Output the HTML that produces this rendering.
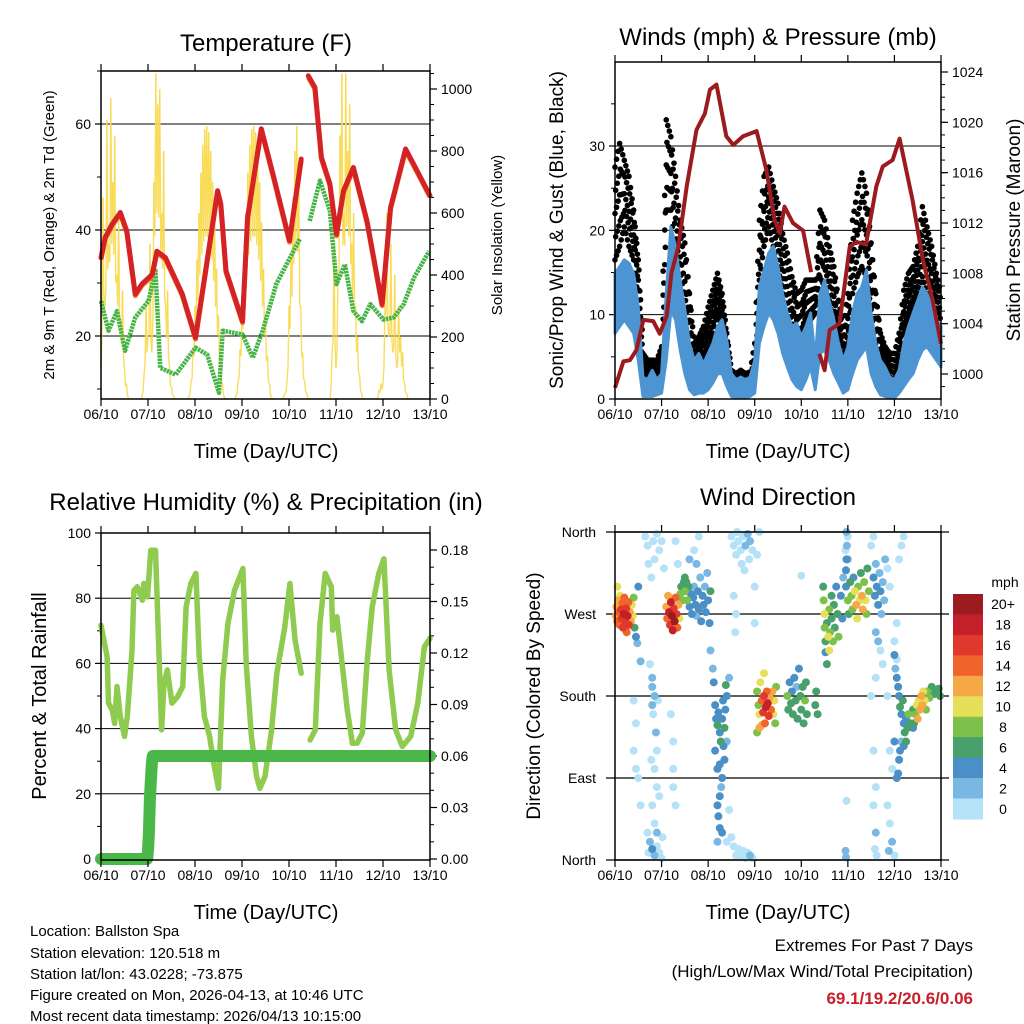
<!DOCTYPE html>
<html><head><meta charset="utf-8"><style>
body{margin:0;background:#fff;}
svg{display:block;font-family:"Liberation Sans",sans-serif;}
</style></head><body>
<svg id="root" width="1024" height="1024" viewBox="0 0 1024 1024">
<rect width="1024" height="1024" fill="#fff"/>
<text x="266" y="51" font-size="24" text-anchor="middle">Temperature (F)</text>
<text x="778" y="45" font-size="24" text-anchor="middle">Winds (mph) &amp; Pressure (mb)</text>
<text x="266" y="510" font-size="24" text-anchor="middle">Relative Humidity (%) &amp; Precipitation (in)</text>
<text x="778" y="505" font-size="24" text-anchor="middle">Wind Direction</text>
<text x="266" y="458" font-size="20" text-anchor="middle">Time (Day/UTC)</text>
<text x="778" y="458" font-size="20" text-anchor="middle">Time (Day/UTC)</text>
<text x="266" y="919" font-size="20" text-anchor="middle">Time (Day/UTC)</text>
<text x="778" y="919" font-size="20" text-anchor="middle">Time (Day/UTC)</text>
<text transform="translate(54,235) rotate(-90)" font-size="15" text-anchor="middle">2m &amp; 9m T (Red, Orange) &amp; 2m Td (Green)</text>
<text transform="translate(502,235) rotate(-90)" font-size="15" text-anchor="middle">Solar Insolation (Yellow)</text>
<text transform="translate(563,230) rotate(-90)" font-size="19" text-anchor="middle">Sonic/Prop Wind &amp; Gust (Blue, Black)</text>
<text transform="translate(1020,230) rotate(-90)" font-size="19" text-anchor="middle">Station Pressure (Maroon)</text>
<text transform="translate(46,696) rotate(-90)" font-size="20" text-anchor="middle">Percent &amp; Total Rainfall</text>
<text transform="translate(540,696) rotate(-90)" font-size="19" text-anchor="middle">Direction (Colored By Speed)</text>
<g font-size="15">
<text x="30" y="936">Location: Ballston Spa</text>
<text x="30" y="958">Station elevation: 120.518 m</text>
<text x="30" y="979">Station lat/lon: 43.0228; -73.875</text>
<text x="30" y="1000">Figure created on Mon, 2026-04-13, at 10:46 UTC</text>
<text x="30" y="1021">Most recent data timestamp: 2026/04/13 10:15:00</text>
</g>
<g font-size="17" text-anchor="end">
<text x="973" y="951">Extremes For Past 7 Days</text>
<text x="973" y="977">(High/Low/Max Wind/Total Precipitation)</text>
<text x="973" y="1004" font-weight="bold" fill="#c8202a">69.1/19.2/20.6/0.06</text>
</g>
</svg>
<script>
// ---------- data ----------
const dayLabels=["06/10","07/10","08/10","09/10","10/10","11/10","12/10","13/10"];
const tempT=[0,.09,.23,.41,.55,.73,.87,1.09,1.19,1.37,1.73,2.01,2.3,2.48,2.55,2.66,3.01,3.12,3.41,3.66,4.01,4.26,null,4.41,4.55,4.69,4.87,5.01,5.16,5.37,5.66,5.98,6.16,6.48,6.69,7.0];
const tempV=[34.8,38.6,41,43.3,39.8,27.9,29.8,31.6,36,34.8,27.9,19.7,36.7,47.4,44.9,32.3,22.8,42.4,59.1,50.5,38,53.4,null,69.1,66.9,53.7,48.7,39.2,47.4,51.8,41.7,26,44.2,55.3,51.8,46.5];
const dewT=[0,.16,.34,.51,.73,1.01,1.16,1.26,1.59,2.01,2.26,2.51,2.59,3.01,3.23,3.44,3.73,4.23,null,4.44,4.66,4.87,5.01,5.19,5.37,5.55,5.73,6.01,6.23,6.44,6.66,6.98];
const dewV=[26.6,21,24.7,17.2,23.5,26.6,32.3,14,12.7,17.8,16.5,9.3,21,20.3,15.9,21,29.8,38.3,null,41.7,49.3,43.6,29.8,33.5,24.7,22.8,26,23.1,23.5,26,31,36];
// hourly solar insolation, one row per day (hours 0..23)
const solar=[
[100,650,300,900,500,970,700,850,400,600,250,350,100,50,0,0,0,0,0,0,0,10,80,300],
[200,500,150,700,1050,950,1000,600,800,300,350,100,40,10,0,0,0,0,0,0,0,10,60,160],
[300,450,600,730,820,870,880,860,800,700,570,420,270,140,50,5,0,0,0,0,0,10,60,160],
[300,450,600,730,820,870,880,860,800,700,570,420,270,140,50,5,0,0,0,0,0,5,20,60],
[300,450,650,800,880,700,300,150,60,20,0,0,0,0,0,0,0,0,0,0,0,0,150,500],
[100,400,850,1050,600,1050,800,950,500,600,300,200,80,20,0,0,0,0,0,0,0,0,30,50],
[50,300,600,200,500,150,400,100,300,200,150,50,20,0,0,0,0,0,0,0,0,0,0,0]];
const pressT=[0,.18,.32,.46,.61,.82,.96,1.11,1.21,1.36,1.54,1.75,1.93,2.04,2.18,2.39,2.54,2.75,3.04,3.25,3.43,3.54,3.64,3.82,4.04,4.21,null,4.39,4.5,4.61,4.82,5.04,5.18,5.39,5.61,5.75,5.96,6.11,6.39,6.61,6.82,7.0];
const pressV=[998.9,1001,1001.1,1001.9,1004.3,1004.2,1003.2,1004.6,1008,1010.1,1014.9,1019.4,1020.7,1022.6,1023,1018.9,1018.2,1018.9,1019.3,1016.2,1012.2,1011.2,1013.3,1012,1011.4,1008.1,null,1001.6,1000.3,1003.5,1004,1010.1,1010.5,1010.3,1014.9,1016.5,1017,1018.7,1013.8,1009.1,1005.9,1002.4];
// wind (every 0.1 day)
const windHi=[14.9,15.7,16.5,16.1,14.9,10.9,2.6,2.3,3.4,2.3,3.0,12.5,20.4,18.1,14.1,10.6,6.6,4.6,5.4,4.2,5.4,6.6,8.6,9.4,7.0,3.0,2.3,2.6,2.3,2.6,4.6,13.3,15.3,17.3,18.1,15.7,12.5,10.2,8.6,9.0,7.4,8.6,10.2,4.6,12.5,14.1,11.7,9.4,6.6,4.6,6.2,10.2,12.5,13.3,15.3,10.2,6.6,4.6,3.8,2.6,2.3,3.4,6.6,8.6,10.2,11.7,13.3,12.5,10.9,9.4,8.6];
const windLo=[7.8,8.6,9.4,8.6,7.8,4.6,0.3,0.3,0.3,0.5,0.7,4.6,10.5,9.4,5.8,3.0,1.1,0.5,0.7,0.7,1.1,1.9,3.0,3.0,1.5,0.3,0.2,0.2,0.2,0.3,0.7,6.6,8.6,10.2,9.4,7.8,5.4,3.8,2.3,1.5,1.1,2.3,3.8,1.1,5.4,5.8,4.6,3.0,1.9,0.7,1.1,3.0,4.6,5.4,6.2,3.0,1.5,0.5,0.3,0.1,0.1,0.7,1.5,2.3,3.0,4.6,5.8,6.2,5.4,4.6,3.8];
const gustHi=[27.5,30.3,28.3,26.4,22.4,16.5,5.4,4.6,4.6,4.6,6.2,33.1,31.1,26.4,21.2,18.5,12.5,6.6,7.4,8.6,10.9,12.9,14.9,12.5,7.8,3.4,3.0,3.4,3.0,3.2,6.6,21.2,26.4,27.5,25.2,23.2,19.6,17.3,14.5,12.5,12.9,14.1,14.1,14.1,22.4,21.2,18.1,15.7,11.7,8.6,12.5,21.2,24.4,26.8,24.4,18.5,12.5,7.8,6.2,5.4,5.4,7.8,12.9,14.9,15.7,18.1,22.8,20.4,18.1,14.9,12.5];
const gustLo=[16.5,18.1,20.4,18.1,16.5,11.7,2.6,2.3,2.3,2.3,3.0,22.4,22.4,16.5,12.5,9.4,6.2,3.0,3.8,4.6,6.2,7.8,10.2,8.6,3.8,1.1,1.1,1.3,1.1,1.1,2.3,14.1,18.1,20.4,18.1,15.7,12.5,9.4,7.0,6.2,7.0,8.6,9.4,10.2,14.5,13.3,11.7,8.6,6.2,4.6,6.6,12.5,14.5,15.7,14.5,10.6,6.6,3.8,3.0,2.6,2.3,3.8,7.8,9.4,10.9,12.5,14.5,12.5,11.7,9.4,7.8];
// humidity & precipitation
const rhT=[0,.13,.16,.24,.29,.34,.41,.5,.56,.66,.7,.77,.88,.91,.99,1.06,1.16,1.24,1.29,1.34,1.41,1.51,1.63,1.74,1.81,1.91,2.02,2.09,2.2,2.31,2.41,2.5,2.59,2.7,2.84,3.02,3.09,3.2,3.31,3.38,3.49,3.63,3.74,3.91,4.02,4.13,4.26,null,4.45,4.56,4.66,4.77,4.9,4.93,5.02,5.13,5.24,5.35,5.45,5.56,5.66,5.77,5.91,6.02,6.13,6.27,6.41,6.59,6.74,6.88,7.0];
const rhV=[71.7,62,47.8,45.7,41.6,52.9,43.7,37.6,43.7,64,82.4,83.5,79.4,84.5,80.4,94.7,94.7,60,39.6,53.9,58,47.8,49.8,52.9,77.3,84.5,87.6,62,43.7,37.6,28.4,21.7,54.9,72.2,82.4,89.1,60,37.6,25.3,21.7,25.3,39.6,57,71.2,84.5,67.1,57,null,36.5,39.6,72.2,87.6,83.5,70.2,74.3,60,45.7,35.5,35.5,38.6,60,77.3,87.6,92.1,58,39.6,34.5,37.6,47.8,65.1,67.7];
const rainT=[0,0.98,1.0,1.02,1.03,1.04,1.06,1.08,1.1,4.29,null,4.32,7.0];
const rainV=[0,0,0.005,0.015,0.025,0.035,0.045,0.055,0.06,0.06,null,0.06,0.06];
// wind direction points [day, degrees, speed mph]
const dirPts=[
[0.02,268,13],[0.03,278,12],[0.05,262,14],[0.07,285,12],[0.08,272,15],[0.1,258,14],[0.11,290,11],[0.13,275,16],[0.14,265,17],[0.16,282,14],[0.17,255,16],[0.19,270,18],[0.2,288,15],[0.22,262,17],[0.24,276,16],[0.25,250,15],[0.27,268,18],[0.29,283,14],[0.3,258,17],[0.32,272,13],[0.34,262,12],[0.36,280,10],[0.38,268,11],[0.4,288,8],[0.42,255,6],[0.45,245,4],[0.48,238,3],[0.5,300,4],[0.55,218,3],[0.05,300,10],
[1.1,278,13],[1.12,265,14],[1.14,290,12],[1.16,272,18],[1.18,258,16],[1.2,283,19],[1.22,268,20],[1.24,252,18],[1.26,276,17],[1.28,262,20],[1.3,288,15],[1.32,270,16],[1.34,255,14],[1.36,280,12],[1.38,265,10],[1.4,292,8],[1.42,300,7],[1.45,285,8],[1.48,305,7],[1.5,310,6],
[1.5,295,8],[1.53,305,7],[1.55,285,8],[1.58,300,6],[1.6,278,5],[1.63,292,4],[1.65,270,4],[1.68,288,4],[1.7,300,3],[1.73,280,4],[1.75,268,3],[1.78,295,4],[1.8,275,4],[1.83,310,3],[1.85,262,4],[1.88,290,4],[1.9,280,5],[1.93,300,3],[1.95,272,4],[1.98,315,2],[2.0,285,5],[2.03,260,4],[2.05,295,6],[1.6,330,2],[1.7,340,1],[1.8,355,1],[1.75,325,2],
[0.65,355,1],[0.7,345,1],[0.72,325,1],[0.78,310,1],[0.82,350,1],[0.85,330,1],[0.9,358,1],[0.95,340,1],[0.75,215,1],[0.8,200,2],[0.8,190,3],[0.8,170,2],[0.82,160,1],[0.85,180,2],[0.88,140,2],[0.9,120,1],[0.92,175,1],[0.78,110,1],[0.85,100,1],[0.9,80,1],[0.95,70,1],[0.8,60,1],[0.85,40,1],[0.75,20,2],[0.8,12,4],[0.85,5,2],[0.9,15,1],[0.95,8,1],[1.0,2,1],[1.02,25,1],[0.7,30,1],[0.72,8,1],[0.9,30,2],[1.05,320,1],[1.0,350,1],
[2.05,230,2],[2.1,210,3],[2.12,195,4],[2.15,170,4],[2.17,155,5],[2.2,148,6],[2.22,162,4],[2.25,140,5],[2.27,130,7],[2.3,155,4],[2.32,175,4],[2.33,125,4],[2.35,110,4],[2.3,90,4],[2.28,80,3],[2.25,70,4],[2.2,60,4],[2.22,48,4],[2.25,35,4],[2.3,30,4],[2.2,20,2],[2.35,145,7],[2.37,165,4],[2.4,180,4],[2.4,130,3],[2.45,200,2],[2.15,120,4],[2.2,100,4],[2.25,105,5],[2.38,192,6],
[2.5,355,1],[2.55,345,1],[2.6,335,1],[2.62,360,1],[2.65,350,1],[2.7,340,1],[2.72,325,1],[2.75,355,1],[2.78,318,1],[2.8,345,2],[2.85,358,2],[2.88,330,1],[2.9,350,2],[2.95,340,1],[2.5,25,1],[2.55,15,1],[2.6,5,1],[2.65,12,1],[2.7,3,1],[2.75,10,1],[2.8,2,1],[2.85,8,1],[2.9,5,2],[2.95,2,1],[2.6,270,1],[2.58,250,1],[2.55,290,1],[2.4,20,1],[2.45,55,1],
[3.05,185,9],[3.08,170,8],[3.1,160,10],[3.12,195,10],[3.15,175,14],[3.18,162,16],[3.2,180,17],[3.22,150,15],[3.24,168,19],[3.26,185,14],[3.28,172,18],[3.3,158,16],[3.32,178,13],[3.35,165,14],[3.38,185,12],[3.4,160,11],[3.42,175,10],[3.44,150,9],[3.46,190,8],[3.1,145,12],[3.15,148,12],[3.05,140,8],[3.2,205,10],
[3.7,180,8],[3.72,165,6],[3.75,195,4],[3.78,172,7],[3.8,185,5],[3.82,160,6],[3.85,200,4],[3.88,175,7],[3.9,190,3],[3.92,155,7],[3.95,210,4],[3.98,180,6],[4.0,165,7],[4.03,190,7],[4.05,150,6],[4.08,175,8],[4.1,195,6],[4.12,160,7],[4.3,170,6],[4.32,185,7],[4.35,160,6],
[4.47,300,6],[4.48,285,8],[4.5,270,10],[4.5,255,9],[4.52,240,6],[4.52,228,5],[4.55,215,6],[4.55,260,7],[4.58,245,10],[4.6,230,10],[4.6,275,8],[4.62,250,9],[4.65,290,6],[4.65,265,7],[4.68,240,8],[4.7,280,6],[4.72,255,7],[4.75,300,5],[4.78,270,6],[4.8,245,8],[4.85,290,4],[4.88,265,4],[4.9,310,3],
[4.96,300,5],[5.0,285,8],[5.02,270,7],[5.05,305,6],[5.08,290,8],[5.1,275,9],[5.12,310,5],[5.15,295,10],[5.18,280,12],[5.2,265,11],[5.22,300,8],[5.25,285,10],[5.28,315,6],[5.3,290,13],[5.32,275,12],[5.35,305,8],[5.38,285,10],[5.4,270,9],[5.42,320,6],[5.45,295,8],[5.0,330,3],[4.98,345,2],[5.0,355,1],
[5.55,310,4],[5.58,290,4],[5.6,325,3],[5.62,300,5],[5.65,280,4],[5.68,315,3],[5.7,295,4],[5.72,270,3],[5.75,305,2],[5.78,285,3],[5.8,330,2],[5.85,320,1],[5.9,300,1],[5.6,250,2],[5.65,240,3],[5.7,230,1],[5.75,215,1],[5.6,200,1],[5.5,180,1],[5.55,120,1],[5.6,80,1],[5.55,60,1],[5.6,30,2],[5.58,12,1],[5.62,5,1],[5.5,345,1],[5.55,355,1],
[4.95,340,1],[4.97,330,4],[4.96,318,4],[4.97,65,1],[4.95,10,2],[4.96,3,3],[4.97,360,2],
[6.0,225,4],[6.02,210,3],[6.05,200,4],[6.08,190,5],[6.1,180,4],[6.12,168,6],[6.15,160,4],[6.18,175,7],[6.2,150,5],[6.22,140,6],[6.25,155,4],[6.28,145,7],[6.3,160,8],[6.12,120,4],[6.1,110,4],[6.08,95,4],[6.05,90,4],[6.0,130,4],[6.15,130,3],[6.2,125,5],[6.25,130,6],[6.35,150,6],[6.4,165,7],
[5.85,180,1],[5.9,120,1],[5.95,100,1],[5.85,60,1],[5.9,40,1],[5.95,20,2],[6.0,5,1],[5.88,10,2],[6.05,220,1],[6.0,240,1],[6.05,260,1],[6.1,330,1],[6.15,345,1],[6.2,355,1],
[6.45,160,8],[6.48,170,10],[6.5,155,12],[6.52,175,10],[6.55,165,12],[6.58,180,12],[6.6,170,13],[6.62,185,11],[6.65,175,10],[6.68,165,9],[6.7,185,8],[6.75,178,8],[6.8,190,7],[6.85,182,6],[6.9,185,7],[6.95,188,7],[6.98,180,6],[6.42,150,6],[6.4,145,5],
[0.4,120,1],[0.45,100,1],[0.5,90,1],[0.55,60,1],[0.45,150,1],[0.4,175,1],[1.2,160,1],[1.25,130,1],[1.25,80,1],[1.3,60,1],[1.25,100,1],[1.3,350,1],[1.35,325,1],[3.05,335,1],[3.0,260,1],[3.1,360,1],[3.0,300,1],[4.0,312,1]];
const speedLabels=["0","2","4","6","8","10","12","14","16","18","20+"];
const speedColors=["#b5e2f6","#79b8e3","#4a90c6","#48a06a","#7dc14a","#e6df5a","#f7a846","#f0642c","#e0382c","#c4202a","#9b1b1e"];

// ---------- drawing ----------
const NS="http://www.w3.org/2000/svg";
const root=document.getElementById('root');
function mk(tag,attrs,parent){const e=document.createElementNS(NS,tag);for(const k in attrs)e.setAttribute(k,attrs[k]);(parent||root).appendChild(e);return e;}
function lin(d0,d1,r0,r1){return v=>r0+(v-d0)*(r1-r0)/(d1-d0);}
function pathFrom(ts,vs,sx,sy){let d="",pen=false;for(let i=0;i<ts.length;i++){if(ts[i]===null){pen=false;continue;}d+=(pen?"L":"M")+sx(ts[i]).toFixed(1)+","+sy(vs[i]).toFixed(1);pen=true;}return d;}

function frame(x0,y0,x1,y1,name){
  const g=mk('g',{});
  
  
  mk('rect',{x:x0,y:y0,width:x1-x0,height:y1-y0,fill:'none',stroke:'#000','stroke-width':1.5},g);
  const sx=lin(0,7,x0,x1);
  for(let i=0;i<dayLabels.length;i++){
    const x=sx(i);
    mk('line',{x1:x,y1:y1,x2:x,y2:y1+7,stroke:'#000','stroke-width':1.2},g);
    mk('line',{x1:x,y1:y0,x2:x,y2:y0-7,stroke:'#000','stroke-width':1.2},g);
    const t=mk('text',{x:x,y:y1+20,'font-size':14,'text-anchor':'middle'},g);
    
    
    t.textContent=dayLabels[i];
  }
  return sx;
}
function leftAxis(x0,x1,sy,ticks,labels,minor,name,gridLo){
  const g=mk('g',{});
  
  
  ticks.forEach((v,i)=>{
    const y=sy(v);
    if(v!==gridLo) mk('line',{x1:x0,y1:y,x2:x1,y2:y,stroke:'#000','stroke-width':1},g);
    mk('line',{x1:x0-6,y1:y,x2:x0,y2:y,stroke:'#000','stroke-width':1.2},g);
    const t=mk('text',{x:x0-10,y:y+5,'font-size':14,'text-anchor':'end'},g);
    t.textContent=labels[i];
  });
  minor.forEach(v=>{const y=sy(v);mk('line',{x1:x0-4,y1:y,x2:x0,y2:y,stroke:'#000','stroke-width':1},g);});
}
function rightAxis(x1,sy,ticks,labels,minor,name){
  const g=mk('g',{});
  
  
  ticks.forEach((v,i)=>{
    const y=sy(v);
    mk('line',{x1:x1,y1:y,x2:x1+7,y2:y,stroke:'#000','stroke-width':1.2},g);
    const t=mk('text',{x:x1+11,y:y+5,'font-size':14,'text-anchor':'start'},g);
    t.textContent=labels[i];
  });
  minor.forEach(v=>{const y=sy(v);mk('line',{x1:x1,y1:y,x2:x1+4,y2:y,stroke:'#000','stroke-width':1},g);});
}
function range(a,b,s){const r=[];for(let v=a;v<=b+1e-9;v+=s)r.push(+v.toFixed(4));return r;}

// ===== Temperature panel =====
{
  const X0=101,X1=430,Y0=71,Y1=399;
  const sy=lin(20,60,336,124);
  const sySol=lin(0,1000,399,89);
  const sx=lin(0,7,X0,X1);
  leftAxis(X0,X1,sy,[20,40,60],["20","40","60"],range(10,70,10),'temp-left-axis');
  rightAxis(X1,sySol,range(0,1000,200),range(0,1000,200).map(String),range(0,1050,50),'solar-right-axis');
  const sg=mk('g',{});
  
  
  const sts=[],svs=[];
  solar.forEach((row,d)=>row.forEach((v,h)=>{sts.push(d+h/24);svs.push(v);}));
  sts.push(7);svs.push(0);
  for(let i=0;i<sts.length-1;i++){
    if(svs[i]===0&&svs[i+1]===0)continue;
    const a=sts[i],b=sts[i+1],m=(a+b)/2;
    const p=mk('path',{d:'M'+sx(a)+','+sySol(svs[i])+'L'+sx(m)+','+sySol((svs[i]+svs[i+1])/2*0.6)+'L'+sx(b)+','+sySol(svs[i+1]),fill:'none',stroke:'#f8d94e','stroke-width':1.4,opacity:0.9},sg);
    
  }
  const dew=mk('path',{d:pathFrom(dewT,dewV,sx,sy),fill:'none',stroke:'#46b445','stroke-width':4.5,'stroke-dasharray':'2.5 0.8','stroke-linejoin':'round'});
  
  
  const t9=mk('path',{d:pathFrom(tempT,tempV,sx,v=>sy(v)+1.5),fill:'none',stroke:'#f07d2a','stroke-width':5,'stroke-linejoin':'round'});
  
  
  const t2=mk('path',{d:pathFrom(tempT,tempV,sx,sy),fill:'none',stroke:'#d42226','stroke-width':5,'stroke-linejoin':'round','stroke-linecap':'round'});
  
  
  frame(X0,Y0,X1,Y1,'temperature');
}

// ===== Wind panel =====
{
  const X0=615,X1=941,Y0=62,Y1=399;
  const sy=lin(0,30,399,146);
  const syP=lin(1000,1024,374,72);
  const sx=lin(0,7,X0,X1);
  leftAxis(X0,X1,sy,[0,10,20,30],["0","10","20","30"],range(5,35,10),'wind-left-axis',0);
  rightAxis(X1,syP,range(1000,1024,4),range(1000,1024,4).map(String),range(999,1024,1),'pressure-right-axis');
  const gg=mk('g',{});
  
  
  const fr=[0,0.25,0.5,0.75,1];
  for(let i=0;i<gustHi.length-1;i++){
    for(let k=0;k<3;k++){
      const f=k/3,t=(i+f)*0.1;
      const hi=gustHi[i]+(gustHi[i+1]-gustHi[i])*f, lo=gustLo[i]+(gustLo[i+1]-gustLo[i])*f;
      fr.forEach((q,j)=>{mk('circle',{cx:sx(t+(j%2)*0.015),cy:sy(lo+(hi-lo)*q),r:2.8,fill:'#000'},gg);});
    }
  }
  let d="";
  for(let i=0;i<windHi.length;i++)d+=(i?"L":"M")+sx(i*0.1)+","+sy(windHi[i]);
  for(let i=windLo.length-1;i>=0;i--)d+="L"+sx(i*0.1)+","+sy(windLo[i]);
  const wb=mk('path',{d:d+"Z",fill:'#4d94d2',stroke:'#4d94d2','stroke-width':3,'stroke-linejoin':'round'});
  
  
  const pl=mk('path',{d:pathFrom(pressT,pressV,sx,syP),fill:'none',stroke:'#9b1b1e','stroke-width':4,'stroke-linejoin':'round'});
  
  
  frame(X0,Y0,X1,Y1,'winds');
}

// ===== RH panel =====
{
  const X0=101,X1=430,Y0=533,Y1=860;
  const sy=lin(0,100,859,533);
  const syR=lin(0,0.18,859,550);
  const sx=lin(0,7,X0,X1);
  leftAxis(X0,X1,sy,range(0,100,20),range(0,100,20).map(String),range(10,90,20),'rh-left-axis',0);
  rightAxis(X1,syR,range(0,0.18,0.03),range(0,0.18,0.03).map(v=>v.toFixed(2)),range(0,0.18,0.01),'precip-right-axis');
  const rh=mk('path',{d:pathFrom(rhT,rhV,sx,sy),fill:'none',stroke:'#8fcb4f','stroke-width':5.5,'stroke-linejoin':'round','stroke-linecap':'round'});
  
  
  const rn=mk('path',{d:pathFrom(rainT,rainV,sx,syR),fill:'none',stroke:'#4ab848','stroke-width':12,'stroke-linejoin':'round','stroke-linecap':'round'});
  
  
  frame(X0,Y0,X1,Y1,'humidity');
}

// ===== Wind direction panel =====
{
  const X0=615,X1=941,Y0=532,Y1=860;
  const sy=lin(0,360,860,532);
  const sx=lin(0,7,X0,X1);
  const g=mk('g',{});
  
  
  const dl=["North","East","South","West","North"];
  [0,90,180,270,360].forEach((v,i)=>{
    const y=sy(v);
    mk('line',{x1:X0-9,y1:y,x2:X1+8,y2:y,stroke:'#000','stroke-width':1.2},g);
    const t=mk('text',{x:X0-19,y:y+5,'font-size':14,'text-anchor':'end'},g);
    t.textContent=dl[i];
  });
  const pg=mk('g',{});
  
  
  const sorted=dirPts.slice().sort((a,b)=>a[2]-b[2]);
  sorted.forEach(p=>{
    const bin=Math.max(0,Math.min(10,Math.floor(p[2]/2)));
    const c=mk('circle',{cx:sx(p[0]),cy:sy(p[1]),r:4,fill:speedColors[bin]},pg);
    
    
  });
  frame(X0,Y0,X1,Y1,'direction');
  // colorbar
  const cb=mk('g',{});
  
  
  const bh=225/11;
  const lab=mk('text',{x:1005,y:587,'font-size':14,'text-anchor':'middle'},cb);
  lab.textContent='mph';
  for(let i=0;i<11;i++){
    const k=10-i;
    const y=594+i*bh;
    const r=mk('rect',{x:953,y:y,width:30,height:bh+0.5,fill:speedColors[k]},cb);
    
    
    const t=mk('text',{x:1003,y:y+bh/2+5,'font-size':14,'text-anchor':'middle'},cb);
    t.textContent=speedLabels[k];
  }
}
</script>
</body></html>
